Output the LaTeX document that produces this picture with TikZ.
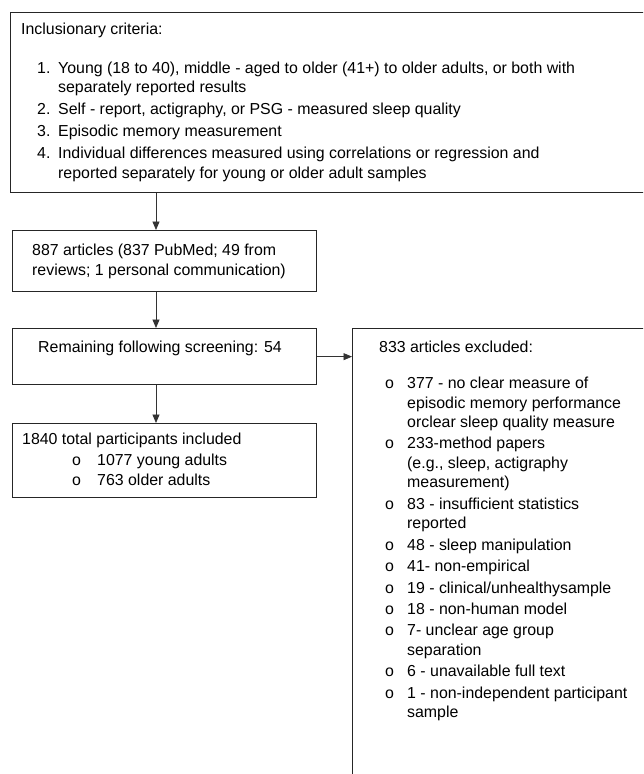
\documentclass[tikz,border=0pt]{standalone}
\usepackage{fontspec}
\setmainfont{Liberation Sans}
\usetikzlibrary{arrows.meta}
\newcommand\lblbox[2]{\makebox[#1][l]{#2}}
\begin{document}
\begin{tikzpicture}[x=1pt,y=-1pt,
  box/.style={draw=black!85, line width=1.3pt, anchor=north west, inner sep=0pt},
  txt/.style={anchor=base west, inner sep=0pt, align=left, font=\fontsize{15.9}{19.5}\selectfont},
  arr/.style={draw=black!80, line width=0.8pt, -{Triangle[length=8.5pt,width=7pt]}}]
\clip (0,0) rectangle (643,774);
\useasboundingbox (0,0) rectangle (643,774);
% boxes
\node[box, minimum width=660pt, minimum height=180pt] (b1) at (10,12) {};
\node[box, minimum width=304pt, minimum height=61pt] (b2) at (12,230) {};
\node[box, minimum width=304pt, minimum height=56pt] (b3) at (12,328) {};
\node[box, minimum width=304pt, minimum height=74pt] (b4) at (12,423) {};
\node[box, minimum width=320pt, minimum height=470pt] (b5) at (352,328) {};
% texts
\node[txt] (t1) at (21,34) {Inclusionary criteria:};
\node[txt] (t1l) at (37,73) {\renewcommand\arraystretch{1}\begin{tabular}[t]{@{}l@{}l@{}}
\lblbox{21pt}{1.}&Young (18 to 40), middle - aged to older (41+) to older adults, or both with\\
&separately reported results\\[2.5pt]
\lblbox{21pt}{2.}&Self - report, actigraphy, or PSG - measured sleep quality\\[2.5pt]
\lblbox{21pt}{3.}&Episodic memory measurement\\[2.5pt]
\lblbox{21pt}{4.}&Individual differences measured using correlations or regression and\\
&reported separately for young or older adult samples
\end{tabular}};
\node[txt] (t2) at (32,255.5) {\renewcommand\arraystretch{1}\begin{tabular}[t]{@{}l@{}}
887 articles (837 PubMed; 49 from\\reviews; 1 personal communication)
\end{tabular}};
\node[txt] (t3) at (38,352.5) {Remaining following screening: 54};
\node[txt] (t4) at (22,444.5) {1840 total participants included};
\node[txt] (t4l) at (72,465) {\renewcommand\arraystretch{1}\fontsize{15.9}{20.5}\selectfont\begin{tabular}[t]{@{}l@{}l@{}}
\lblbox{25pt}{o}&1077 young adults\\
\lblbox{25pt}{o}&763 older adults
\end{tabular}};
\node[txt] (t5) at (379,352.5) {833 articles excluded:};
\node[txt] (t5l) at (385,388.5) {\renewcommand\arraystretch{1}\begin{tabular}[t]{@{}l@{}l@{}}
\lblbox{22pt}{o}&377 - no clear measure of\\
&episodic memory performance\\
&orclear sleep quality measure\\[1.9pt]
\lblbox{22pt}{o}&233-method papers\\
&(e.g., sleep, actigraphy\\
&measurement)\\[1.9pt]
\lblbox{22pt}{o}&83 - insufficient statistics\\
&reported\\[1.9pt]
\lblbox{22pt}{o}&48 - sleep manipulation\\[1.9pt]
\lblbox{22pt}{o}&41- non-empirical\\[1.9pt]
\lblbox{22pt}{o}&19 - clinical/unhealthysample\\[1.9pt]
\lblbox{22pt}{o}&18 - non-human model\\[1.9pt]
\lblbox{22pt}{o}&7- unclear age group\\
&separation\\[1.9pt]
\lblbox{22pt}{o}&6 - unavailable full text\\[1.9pt]
\lblbox{22pt}{o}&1 - non-independent participant\\
&sample
\end{tabular}};
% connectors
\coordinate (ax) at (156,0);
\draw[arr] (b1.south -| ax) -- (b2.north -| ax);
\draw[arr] (b2.south -| ax) -- (b3.north -| ax);
\draw[arr] (b3.south -| ax) -- (b4.north -| ax);
\draw[arr] (b3.east) -- (b5.west |- b3.east);
\end{tikzpicture}
\end{document}
